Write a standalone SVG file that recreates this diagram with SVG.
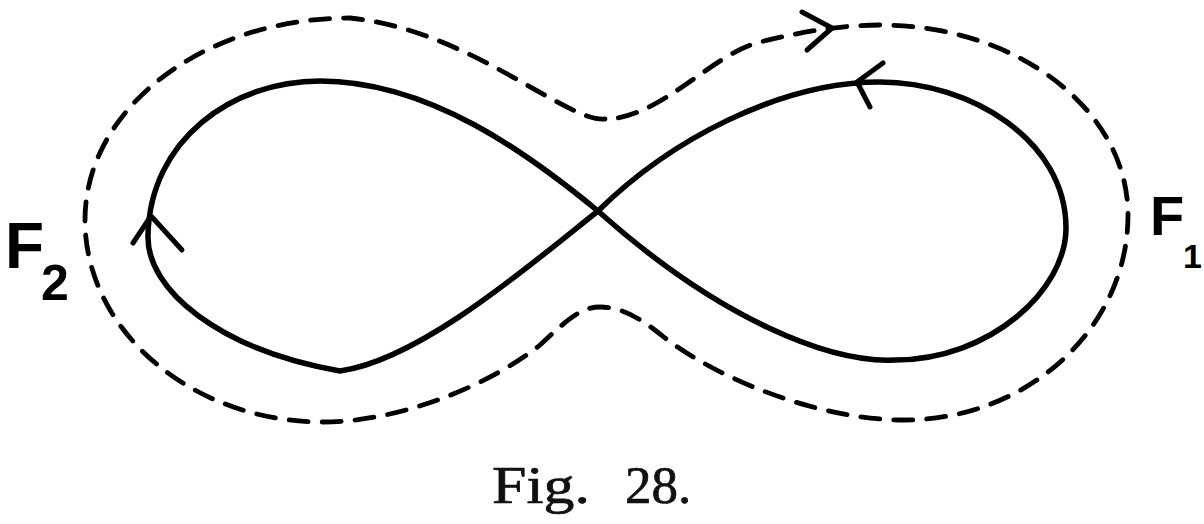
<svg xmlns="http://www.w3.org/2000/svg" width="1204" height="524" viewBox="0 0 1204 524">
<style>
.solid{fill:none;stroke:#000;stroke-width:5.5;stroke-linecap:round;stroke-linejoin:round}
.dash{fill:none;stroke:#000;stroke-width:4.8;stroke-dasharray:19 14;stroke-linecap:round}
.arr{fill:none;stroke:#000;stroke-width:5;stroke-linecap:round;stroke-linejoin:round}
.lbl{font-family:"Liberation Sans",Arial,sans-serif;font-weight:bold;fill:#000}
.cap{font-family:"Liberation Serif","Times New Roman",serif;font-size:53px;fill:#111;stroke:#111;stroke-width:0.7}
</style>
<rect width="1204" height="524" fill="#fff"/>
<g id="figure-eight">
<path class="solid" d="M598,211 C530,155 430,81 320,81 C232,81 150,140 148,235 C146,290 220,350 340,371 C420,360 530,265 598,211 C670,140 780,82 880,82 C970,82 1066,140 1066,228 C1066,290 990,360 895,360 C830,363 720,320 598,211 Z"/>
</g>
<g id="dashed-path">
<path class="dash" d="M605,119 C565,122 470,30 350,18 C204,18 85,108 85,220 C85,331 192,422 323,422 C400,422 490,385 540,345 C565,322 580,307 600,307 C625,307 645,322 665,338 C720,380 820,420 904,420 C1028,420 1128,328 1128,215 C1128,110 1017,25 880,25 C840,25 800,32 760,42 C710,55 660,119 605,119 Z"/>
</g>
<g id="arrows">
<path class="arr" d="M802,12 L832,28 L807,50"/>
<path class="arr" d="M883,63 L857,82 L870,107"/>
<path class="arr" d="M133,243 L151,216 L182,250"/>
</g>
<g id="label-F2">
<text class="lbl" x="5" y="268" font-size="64">F</text>
<text class="lbl" x="41" y="300" font-size="50">2</text>
</g>
<g id="label-F1">
<text class="lbl" x="1150" y="235" font-size="56">F</text>
<text class="lbl" x="1183" y="268" font-size="34">1</text>
</g>
<g id="caption">
<text class="cap" x="492" y="503" textLength="98" lengthAdjust="spacingAndGlyphs">Fig.</text>
<text class="cap" x="625" y="503">28.</text>
</g>
</svg>
